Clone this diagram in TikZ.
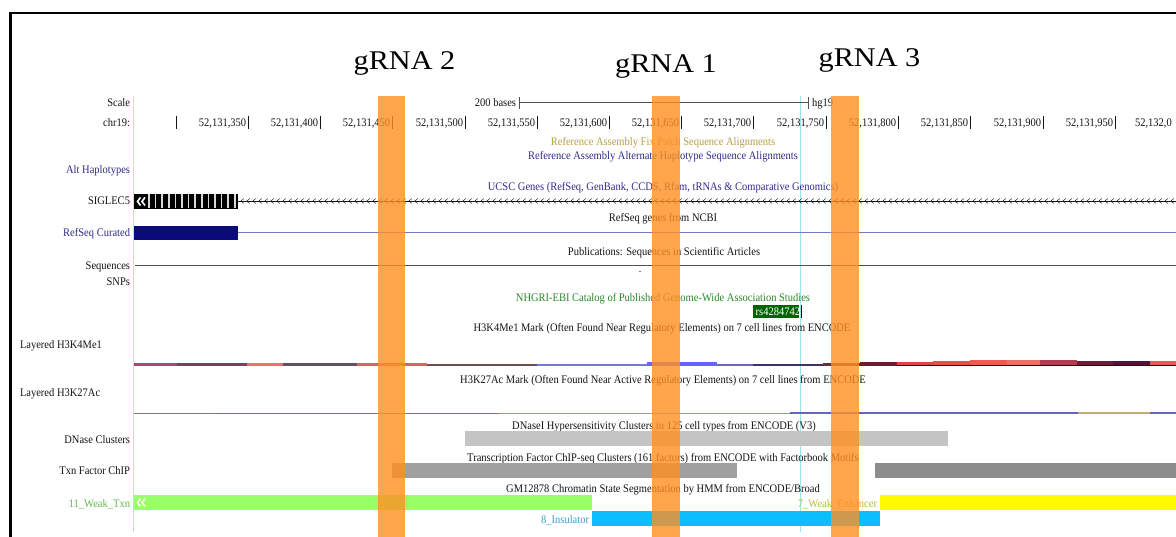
\documentclass[tikz,border=0pt]{standalone}
\usepackage{fontspec}
\setmainfont{Liberation Serif}
\definecolor{txt}{RGB}{20,20,20}
\definecolor{navytxt}{RGB}{45,45,140}
\definecolor{olivetxt}{RGB}{180,160,70}
\definecolor{greentxt}{RGB}{45,135,45}
\definecolor{ltgreentxt}{RGB}{100,185,80}
\definecolor{yellowtxt}{RGB}{190,185,60}
\definecolor{bluetxt}{RGB}{60,160,210}
\definecolor{orng}{RGB}{255,144,32}
\definecolor{pinkline}{RGB}{255,200,200}
\definecolor{cyanline}{RGB}{150,230,235}
\definecolor{navybox}{RGB}{10,10,120}
\definecolor{rsgreen}{RGB}{0,100,0}
\definecolor{intron}{RGB}{120,120,200}
\definecolor{seqline}{RGB}{80,80,80}
\definecolor{dnase}{RGB}{196,196,196}
\definecolor{tfa}{RGB}{160,160,160}
\definecolor{tfb}{RGB}{140,140,140}
\definecolor{wktxn}{RGB}{153,255,102}
\definecolor{enh}{RGB}{255,250,0}
\definecolor{ins}{RGB}{10,190,255}
\definecolor{stripe}{RGB}{215,215,215}
\begin{document}
\begin{tikzpicture}[x=1pt,y=-1pt,inner sep=0pt,outer sep=0pt,
  sm/.style={font=\fontsize{10.5}{13}\selectfont,text=txt,yscale=1.1},
  lbl/.style={sm,anchor=base east},
  ctr/.style={sm,anchor=base},
  big/.style={font=\fontsize{27}{30}\selectfont,anchor=base,text=black,xscale=1.12},
  tick/.style={draw=txt,line width=0.9pt},
  grna/.style={fill=orng,fill opacity=0.8,draw=none}]
\useasboundingbox (0,0) rectangle (1176,537);
\fill[white] (0,0) rectangle (1176,537);
% frame
\draw[line width=2.6pt,black] (10.5,537) -- (10.5,13) -- (1176,13);
% gRNA labels
\node[big] (g2) at (404.5,69.5) {gRNA 2};
\node[big] (g1) at (666,73) {gRNA 1};
\node[big] (g3) at (869.5,67) {gRNA 3};
% guide vertical lines
\draw[pinkline,line width=0.8pt] (133.5,96) -- (133.5,532);
\draw[cyanline,line width=0.8pt] (800.5,96) -- (800.5,532);
% scale row
\node[lbl] (scale) at (130,107) {Scale};
\node[lbl] (chr) at (130,127) {chr19:};
\node[lbl] (bases) at (516,107) {200 bases};
\node[sm,anchor=base west] (hg) at (812,107) {hg19};
\draw[seqline,line width=1pt] (519,103) -- (808,103);
\draw[seqline,line width=1pt] (519,97) -- (519,109) (808,97) -- (808,109);
\draw[tick] (176,116.5) -- (176,129);
\foreach \n/\x in {350/248,400/320,450/392,500/465,550/537,600/609,650/681,700/753,750/826,800/898,850/970,900/1043,950/1115}{
  \node[sm,anchor=base east] (t\n) at (\x-1.8,127) {52,131,\n};
  \draw[tick] (\x,116.5) -- (\x,129);
}
\node[sm,anchor=base west] (t0) at (1135,127) {52,132,0};
% track header texts
\node[ctr,text=olivetxt] (fix) at (663,146) {Reference Assembly Fix Patch Sequence Alignments};
\node[ctr,text=navytxt] (alt) at (663,160) {Reference Assembly Alternate Haplotype Sequence Alignments};
\node[lbl,text=navytxt] (althap) at (130,174) {Alt Haplotypes};
\node[ctr,text=navytxt] (ucsc) at (663,191) {UCSC Genes (RefSeq, GenBank, CCDS, Rfam, tRNAs \& Comparative Genomics)};
% SIGLEC5
\node[lbl] (sig) at (130,205) {SIGLEC5};
\draw[txt,line width=0.8pt] (238,201) -- (1176,201);
\foreach \x in {241,247,...,1175}{\draw[txt,line width=0.5pt] (\x+2.6,198.6) -- (\x,201) -- (\x+2.6,203.4);}
\fill[black] (134,194) rectangle (238,209);
\foreach \x in {149,155.6,...,235}{\draw[stripe,line width=1.7pt] (\x,194.5) -- (\x,208.5);}
\draw[white,line width=1.6pt] (140.5,197.5) -- (137.5,201.5) -- (140.5,205.5);
\draw[white,line width=1.6pt] (145,197.5) -- (142,201.5) -- (145,205.5);
% RefSeq
\node[ctr] (refncbi) at (663,222) {RefSeq genes from NCBI};
\node[lbl,text=navytxt] (refcur) at (130,237) {RefSeq Curated};
\draw[intron,line width=1pt] (238,233) -- (1176,233);
\fill[navybox] (134,226) rectangle (238,240);
% Publications
\node[ctr] (pub) at (664,256) {Publications: Sequences in Scientific Articles};
\node[lbl] (seqs) at (130,270) {Sequences};
\draw[seqline,line width=1pt] (135,266) -- (1176,266);
\node[lbl] (snps) at (130,286) {SNPs};
\fill[gray] (639,271.5) rectangle (641,272.5);
% GWAS
\node[ctr,text=greentxt] (gwas) at (663,302) {NHGRI-EBI Catalog of Published Genome-Wide Association Studies};
\fill[rsgreen] (753,305) rectangle (799,318);
\begin{scope}
\clip (753,305) rectangle (799,318);
\node[sm,text=white,anchor=base east] (rs) at (800,316) {rs4284742};
\end{scope}
\draw[black,line width=0.9pt] (801.5,305) -- (801.5,318);
% H3K4Me1
\node[ctr] (h3k4) at (662,332) {H3K4Me1 Mark (Often Found Near Regulatory Elements) on 7 cell lines from ENCODE};
\node[sm,anchor=base west] (lh3k4) at (20,349) {Layered H3K4Me1};
\foreach \a/\b/\r/\g/\bb/\t in {134/177/170/70/120/363,177/247/130/60/100/363,247/283/240/110/110/363,283/357/100/80/100/363.5,357/427/220/100/100/363,427/537/110/80/80/364,537/647/120/120/220/364,647/717/100/100/255/362.5,717/753/110/100/200/364,753/823/60/50/100/364,823/860/120/40/60/363.5,860/897/110/30/50/362.5,897/933/220/70/70/362,933/970/230/80/70/361.5,970/1007/240/90/80/360.5,1007/1040/240/110/100/360,1040/1077/180/60/80/360.5,1077/1113/110/30/60/361,1113/1150/80/20/60/361.5,1150/1176/230/90/90/361}{
  \definecolor{seg}{RGB}{\r,\g,\bb}
  \fill[seg] (\a,\t) rectangle (\b,366);
}
\fill[black!75!red] (897,364.6) rectangle (1176,366);
% H3K27Ac
\node[ctr] (h3k27) at (663,384) {H3K27Ac Mark (Often Found Near Active Regulatory Elements) on 7 cell lines from ENCODE};
\node[sm,anchor=base west] (lh3k27) at (20,396) {Layered H3K27Ac};
\foreach \a/\b/\r/\g/\bb/\t in {134/213/120/120/170/412.6,213/500/140/110/130/412.6,500/790/140/150/240/412.6,790/1078/100/100/200/412,1078/1150/200/170/120/412.3,1150/1176/100/100/200/412}{
  \definecolor{seg}{RGB}{\r,\g,\bb}
  \fill[seg] (\a,\t) rectangle (\b,414.3);
}
% DNase
\node[ctr] (dnt) at (664,429) {DNaseI Hypersensitivity Clusters in 125 cell types from ENCODE (V3)};
\node[lbl] (dnl) at (130,443) {DNase Clusters};
\fill[dnase] (465,431) rectangle (948,446);
% TF
\node[ctr] (tft) at (663,461) {Transcription Factor ChIP-seq Clusters (161 factors) from ENCODE with Factorbook Motifs};
\node[lbl] (tfl) at (130,474) {Txn Factor ChIP};
\fill[tfa] (392,463) rectangle (737,478);
\fill[tfb] (875,463) rectangle (1176,478);
% Chromatin state
\node[ctr] (gm) at (663,492) {GM12878 Chromatin State Segmentation by HMM from ENCODE/Broad};
\node[lbl,text=ltgreentxt] (wt) at (130,507) {11\_Weak\_Txn};
\fill[wktxn] (134,495) rectangle (592,510);
\draw[white,line width=1.6pt] (140.5,498.5) -- (137.5,502.5) -- (140.5,506.5);
\draw[white,line width=1.6pt] (145,498.5) -- (142,502.5) -- (145,506.5);
\node[lbl,text=yellowtxt] (we) at (877,507) {7\_Weak\_Enhancer};
\fill[enh] (880,495) rectangle (1176,510);
\node[lbl,text=bluetxt] (insl) at (589,523) {8\_Insulator};
\fill[ins] (592,511) rectangle (880,526);
% gRNA bars
\fill[grna] (378,96) rectangle (405,537);
\fill[grna] (652,96) rectangle (680,537);
\fill[grna] (831,96) rectangle (859,537);
\end{tikzpicture}
\end{document}
